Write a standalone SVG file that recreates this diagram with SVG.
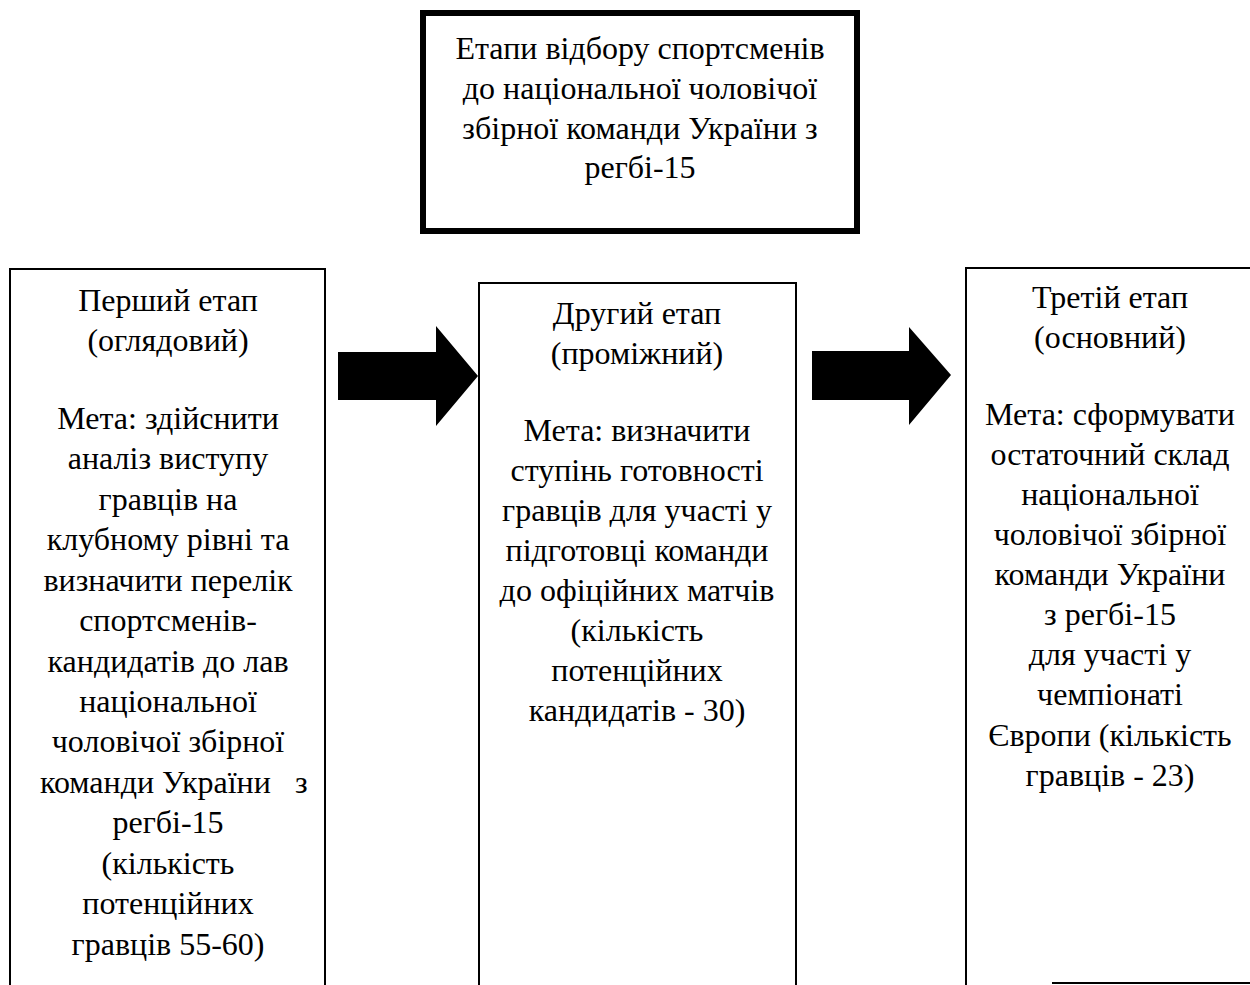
<svg xmlns="http://www.w3.org/2000/svg" width="1250" height="985" viewBox="0 0 1250 985">
<style>
text{font-family:"Liberation Serif","Times New Roman",serif;font-size:32px;fill:#000;text-anchor:middle}
.box{fill:none;stroke:#000;stroke-width:2}
.title{fill:#fff;stroke:#000;stroke-width:6}
.arrow{fill:#000}
</style>
<rect width="1250" height="985" fill="#fff"/>
<g id="title">
<rect class="title" x="423" y="13" width="434" height="218"/>
<text x="640" y="59">Етапи відбору спортсменів</text>
<text x="640" y="99">до національної чоловічої</text>
<text x="640" y="139">збірної команди України з</text>
<text x="640" y="178">регбі-15</text>
</g>
<g id="stage1">
<path class="box" d="M10,985 V269 H325 V985"/>
<text x="168" y="311">Перший етап</text>
<text x="168" y="351">(оглядовий)</text>
<text x="168" y="429">Мета: здійснити</text>
<text x="168" y="469">аналіз виступу</text>
<text x="168" y="510">гравців на</text>
<text x="168" y="550">клубному рівні та</text>
<text x="168" y="591">визначити перелік</text>
<text x="168" y="631">спортсменів-</text>
<text x="168" y="672">кандидатів до лав</text>
<text x="168" y="712">національної</text>
<text x="168" y="752">чоловічої збірної</text>
<text y="793"><tspan x="40" style="text-anchor:start">команди України</tspan><tspan x="295" style="text-anchor:start">з</tspan></text>
<text x="168" y="833">регбі-15</text>
<text x="168" y="874">(кількість</text>
<text x="168" y="914">потенційних</text>
<text x="168" y="955">гравців 55-60)</text>
</g>
<g id="stage2">
<path class="box" d="M479,985 V283 H796 V985"/>
<text x="637" y="324">Другий етап</text>
<text x="637" y="364">(проміжний)</text>
<text x="637" y="441">Мета: визначити</text>
<text x="637" y="481">ступінь готовності</text>
<text x="637" y="521">гравців для участі у</text>
<text x="637" y="561">підготовці команди</text>
<text x="637" y="601">до офіційних матчів</text>
<text x="637" y="641">(кількість</text>
<text x="637" y="681">потенційних</text>
<text x="637" y="721">кандидатів - 30)</text>
</g>
<g id="stage3">
<path class="box" d="M966,985 V268 H1250"/>
<path class="box" d="M1052,983 H1250"/>
<text x="1110" y="308">Третій етап</text>
<text x="1110" y="348">(основний)</text>
<text x="1110" y="425">Мета: сформувати</text>
<text x="1110" y="465">остаточний склад</text>
<text x="1110" y="505">національної</text>
<text x="1110" y="545">чоловічої збірної</text>
<text x="1110" y="585">команди України</text>
<text x="1110" y="625">з регбі-15</text>
<text x="1110" y="665">для участі у</text>
<text x="1110" y="705">чемпіонаті</text>
<text x="1110" y="746">Європи (кількість</text>
<text x="1110" y="786">гравців - 23)</text>
</g>
<g id="connectors">
<polygon class="arrow" points="338,352 436,352 436,326 478,376 436,426 436,400 338,400"/>
<polygon class="arrow" points="812,351 909,351 909,327 951,375 909,425 909,400 812,400"/>
</g>
</svg>
